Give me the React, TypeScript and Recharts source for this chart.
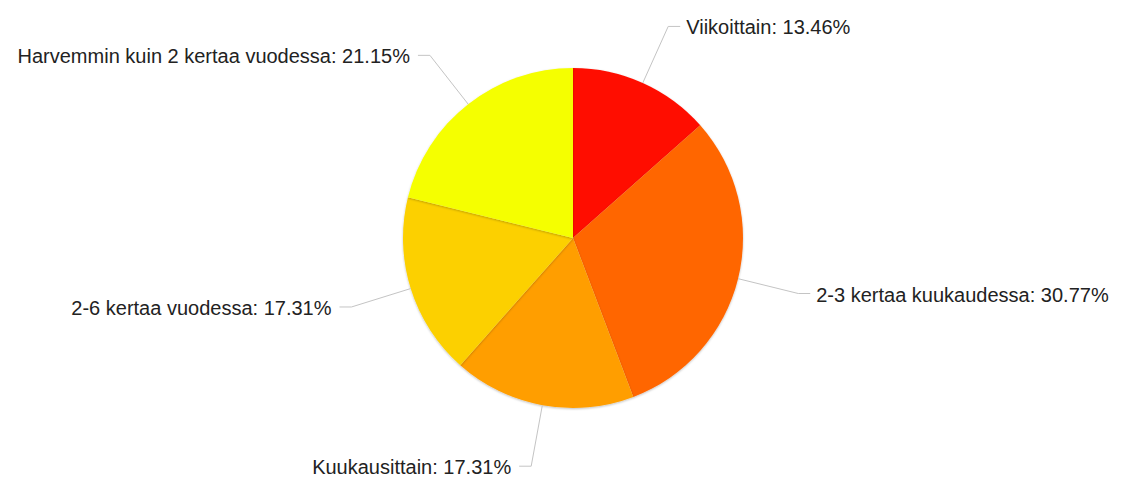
import React from "react";
import { Cell, Pie, PieChart } from "recharts";

const categories = [
  "Viikoittain",
  "2-3 kertaa kuukaudessa",
  "Kuukausittain",
  "2-6 kertaa vuodessa",
  "Harvemmin kuin 2 kertaa vuodessa",
];
const shares = [13.46, 30.77, 17.31, 17.31, 21.15];
const colors = ["#ff1100", "#ff6600", "#ff9e00", "#fcd000", "#f5ff00"];

const data = categories.map((name, i) => ({ name, value: shares[i] }));

const RAD = Math.PI / 180;

const renderLabel = (props: any) => {
  const { cx, cy, midAngle, outerRadius, name, value } = props;
  const cos = Math.cos(-midAngle * RAD);
  const sin = Math.sin(-midAngle * RAD);
  const sx = cx + outerRadius * cos;
  const sy = cy + outerRadius * sin;
  const ex = cx + (outerRadius + 62) * cos;
  const ey = cy + (outerRadius + 62) * sin;
  const right = cos >= 0;
  const hx = ex + (right ? 12 : -12);
  const tx = hx + (right ? 6 : -8);
  return (
    <g>
      <polyline
        points={`${sx},${sy} ${ex},${ey} ${hx},${ey}`}
        fill="none"
        stroke="#c4c4c4"
        strokeWidth={1}
      />
      <text
        x={tx}
        y={ey + 1}
        textAnchor={right ? "start" : "end"}
        dominantBaseline="central"
        fontFamily="'Liberation Sans', Arial, sans-serif"
        fontSize={20}
        fill="#222222"
      >
        {`${name}: ${value.toFixed(2)}%`}
      </text>
    </g>
  );
};

export default function App() {
  return (
    <div style={{ position: "absolute", left: 0, top: 0, background: "#fff" }}>
      <PieChart width={1130} height={479} margin={{ top: 0, right: 0, bottom: 0, left: 0 }}>
        <defs>
          <filter id="pieShadow" x="-10%" y="-10%" width="120%" height="120%">
            <feDropShadow dx="0" dy="1" stdDeviation="1" floodColor="#000" floodOpacity="0.25" />
          </filter>
        </defs>
        <Pie
          data={data}
          dataKey="value"
          nameKey="name"
          cx={573}
          cy={238}
          outerRadius={170}
          startAngle={90}
          endAngle={-270}
          stroke="none"
          label={renderLabel}
          labelLine={false}
          isAnimationActive={false}
          style={{ filter: "url(#pieShadow)" }}
        >
          {data.map((d, i) => (
            <Cell key={d.name} fill={colors[i]} />
          ))}
        </Pie>
      </PieChart>
    </div>
  );
}
